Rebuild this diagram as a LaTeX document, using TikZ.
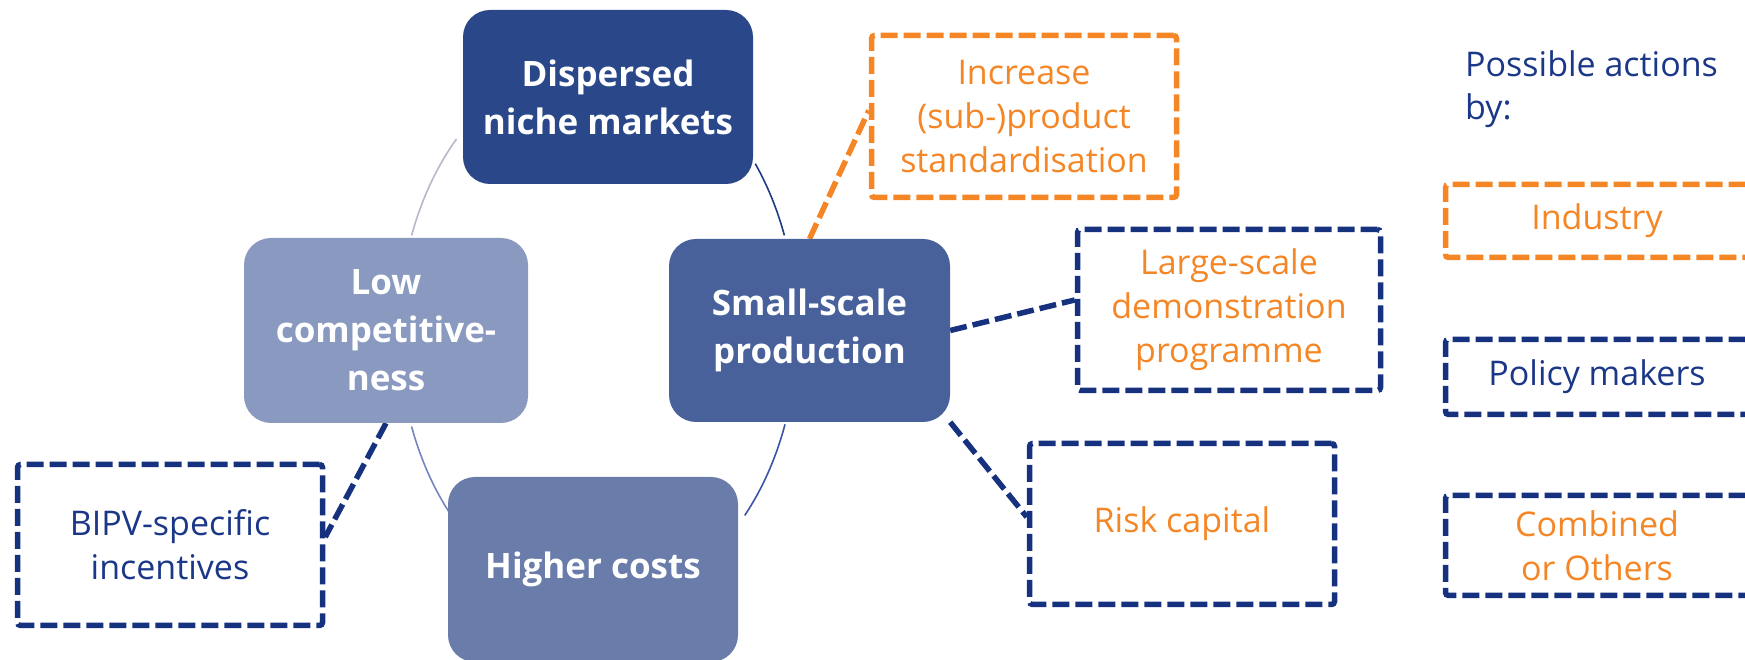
\documentclass[tikz,border=0pt]{standalone}
\usepackage{fontspec}
\setmainfont{Open Sans}
\usetikzlibrary{backgrounds}
\definecolor{cDis}{RGB}{42,72,137}
\definecolor{cSsp}{RGB}{72,97,155}
\definecolor{cLow}{RGB}{137,153,192}
\definecolor{cHig}{RGB}{106,124,170}
\definecolor{cOra}{RGB}{245,134,38}
\definecolor{cNav}{RGB}{22,50,126}
\definecolor{cTxt}{RGB}{27,55,135}
\definecolor{cArcA}{RGB}{180,184,204}
\definecolor{cArcB}{RGB}{31,59,128}
\definecolor{cArcC}{RGB}{58,85,168}
\definecolor{cArcD}{RGB}{117,133,192}
\begin{document}
\begin{tikzpicture}[x=1pt,y=1pt,
  solidbox/.style={rectangle, rounded corners=27pt, fill=#1, text=white,
    font=\bfseries\fontsize{35}{48}\selectfont, align=center, inner sep=0pt},
  actionbox/.style={rectangle, rounded corners=3pt, draw=#1, line width=5.5pt,
    dash pattern=on 17pt off 6pt, align=center,
    font=\fontsize{34}{44}\selectfont, inner sep=0pt},
  linkline/.style={draw=#1, line width=5.5pt, dash pattern=on 17pt off 6pt},
  ringarc/.style={draw=#1, line width=1.6pt},
  plaintext/.style={anchor=base west, inner sep=0pt, text=cTxt,
    font=\fontsize{34}{44}\selectfont}]
\useasboundingbox (0,0) rectangle (1745,660);
\clip (0,0) rectangle (1745,660);

% main problem boxes
\node[solidbox=cDis, minimum width=290pt, minimum height=174pt] (dis) at (608,563) {Dispersed\\niche markets};
\node[solidbox=cSsp, minimum width=281pt, minimum height=183pt] (ssp) at (809.5,329.5) {Small-scale\\production};
\node[solidbox=cLow, minimum width=284pt, minimum height=185pt] (low) at (386,329.5) {Low\\competitive-\\ness};
\node[solidbox=cHig, minimum width=290pt, minimum height=185pt] (hig) at (593,90.5) {Higher costs};

% action boxes
\node[actionbox=cOra, text=cOra, minimum width=305pt, minimum height=162pt] (inc) at (1024,543.5) {Increase\\(sub-)product\\standardisation};
\node[actionbox=cNav, text=cOra, minimum width=303pt, minimum height=161pt] (lsd) at (1229,350) {Large-scale\\demonstration\\programme};
\node[actionbox=cNav, text=cOra, minimum width=305pt, minimum height=161pt] (rsk) at (1182,136) {Risk capital};
\node[actionbox=cNav, text=cTxt, minimum width=305pt, minimum height=161pt] (bip) at (170,115) {BIPV-specific\\incentives};

% legend
\node[plaintext] (pa1) at (1465,583) {Possible actions};
\node[plaintext] (pa2) at (1465,540) {by:};
\node[actionbox=cOra, text=cOra, minimum width=303pt, minimum height=73pt] (ind) at (1597,439) {Industry};
\node[actionbox=cNav, text=cTxt, minimum width=303pt, minimum height=75pt] (pol) at (1597,283) {Policy makers};
\node[actionbox=cNav, text=cOra, minimum width=303pt, minimum height=100pt] (com) at (1597,114.5) {Combined\\or Others};

\coordinate (ring) at (598,329);

\begin{scope}[on background layer]
  % cycle arcs
  \draw[ringarc=cArcA] ([shift={(135.3:199 and 273)}]ring) arc[start angle=135.3, end angle=159.5, x radius=199, y radius=273];
  \draw[ringarc=cArcB] ([shift={(37.8:199 and 273)}]ring) arc[start angle=37.8, end angle=20.5, x radius=199, y radius=273];
  \draw[ringarc=cArcC] ([shift={(-20:199 and 273)}]ring) arc[start angle=-20, end angle=-42.5, x radius=199, y radius=273];
  \draw[ringarc=cArcD] ([shift={(200.5:199 and 273)}]ring) arc[start angle=200.5, end angle=221.5, x radius=199, y radius=273];
  % dashed links
  \draw[linkline=cOra] (ssp.north) -- ([yshift=6pt]inc.west);
  \draw[linkline=cNav] (ssp.east) -- ([yshift=10pt]lsd.west);
  \draw[linkline=cNav] (ssp.south east) -- ([yshift=7pt]rsk.west);
  \draw[linkline=cNav] (low.south) -- ([yshift=8pt]bip.east);
\end{scope}
\end{tikzpicture}
\end{document}
